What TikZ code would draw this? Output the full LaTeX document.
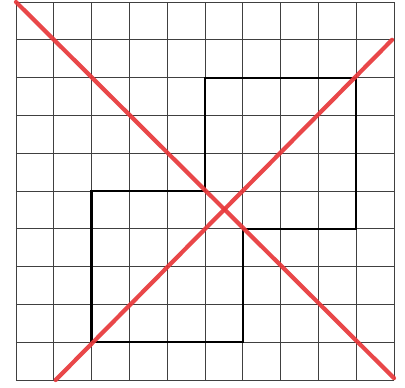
\documentclass[tikz,border=0pt]{standalone}
\definecolor{crossred}{RGB}{232,56,58}
\begin{document}
\begin{tikzpicture}[x=37.8pt,y=37.8pt,
  gridline/.style={draw=black!75,line width=0.9pt},
  figline/.style={draw=black,line width=2.2pt,line join=miter},
  redline/.style={draw=crossred,line width=4.2pt,line cap=round,opacity=0.92}]
\useasboundingbox[fill=white] (-0.423,-0.185) rectangle (10.291,10.053);
\draw[gridline,step=37.8pt] (0,0) grid (10,10);
\draw[figline] (2,5) -- (5,5) -- (5,8) -- (9,8) -- (9,4) -- (6,4) -- (6,1) -- (2,1) -- cycle;
\coordinate (a1) at (0,10);
\coordinate (a2) at (10,0.05);
\coordinate (b1) at (1.05,0);
\coordinate (b2) at (9.95,9);
\draw[redline] (a1) -- (a2);
\draw[redline] (b1) -- (b2);
\end{tikzpicture}
\end{document}
